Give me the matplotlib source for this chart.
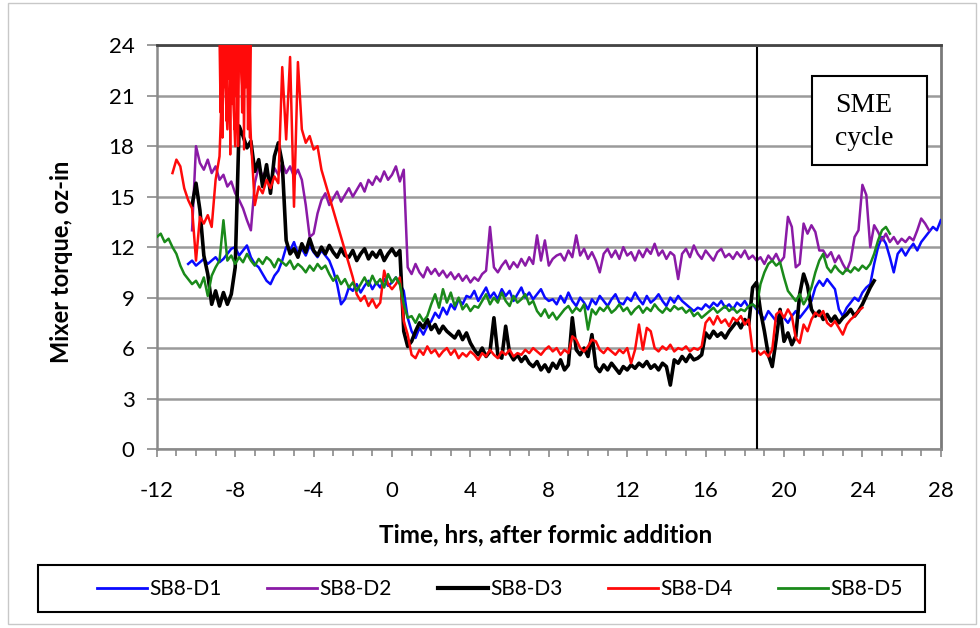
import numpy as np
import matplotlib
matplotlib.use("Agg")
import matplotlib.pyplot as plt
from matplotlib.patches import Rectangle
from matplotlib.lines import Line2D

# ---------------- data ----------------
series_names = ["SB8-D1", "SB8-D2", "SB8-D3", "SB8-D4", "SB8-D5"]
series_colors = ["#0a0aff", "#8a1aa6", "#000000", "#ff0a0a", "#1a8a1a"]
sample_step = 0.2  # hours between logged samples

d1_start = -10.4
d1_values = [
    11.0, 11.2, 10.9, 11.1, 11.3, 11.0, 11.2, 11.4, 11.1, 11.3,
    11.6, 11.9, 12.0, 11.5, 11.8, 12.1, 11.4, 11.0,
    10.8, 10.4, 10.0, 9.8, 10.3, 10.6, 11.2,
    12.0, 11.8, 12.3, 11.6, 11.9, 11.5, 12.1, 11.7, 11.4, 11.8, 11.5, 11.2,
    10.6, 9.8, 8.6, 8.9, 9.6,
    9.4, 9.8, 9.3, 9.7, 10.0, 9.5, 9.9, 9.6, 10.1, 9.7, 9.9, 10.2, 9.8, 9.4,
    7.8, 7.0, 6.6, 7.2, 6.8, 7.3,
    7.6, 8.1, 7.8, 8.4, 8.0, 8.6, 8.3, 8.9, 8.6, 9.1,
    9.0, 9.4, 8.8, 9.2, 9.6, 9.0, 9.3, 8.9, 9.5, 9.1, 9.4, 8.8, 9.2, 9.6, 9.0, 9.3, 8.9, 9.2, 9.5, 9.0, 8.8,
    8.9, 8.6, 9.1, 8.7, 9.3, 8.8, 8.5, 9.0, 8.7, 8.3, 8.9, 8.6, 9.1, 8.8, 8.5, 8.9, 9.2, 8.7,
    8.6, 9.0, 8.8, 9.3, 8.9, 8.6, 9.1, 8.7, 8.9, 9.2, 8.8, 8.5, 9.0, 8.7, 9.1, 8.8, 8.6,
    8.4, 8.2, 8.4, 8.3, 8.6, 8.4, 8.7, 8.5, 8.8, 8.4, 8.6, 8.3, 8.7, 8.5, 8.8, 8.4, 8.6,
    8.3, 8.0, 7.7, 8.2, 7.9, 7.6, 8.1, 7.8, 7.5, 7.9, 8.2, 7.8, 8.1, 8.4, 8.8, 9.6,
    10.0, 9.7, 10.1, 9.8, 9.5,
    8.3, 7.9, 8.4,
    8.7, 9.0, 8.8, 9.3, 9.6, 9.8,
    11.0, 12.0, 12.6, 12.2, 11.4,
    10.5,
    11.6, 11.9, 11.5, 11.9, 12.2, 11.8, 12.3,
    12.6, 12.9, 13.2, 13.0, 13.6,
]

d2_start = -10.2
d2_values = [
    13.0, 18.0, 17.0, 16.6, 17.2, 16.4, 16.8,
    16.0, 16.3, 15.6, 15.9, 15.2, 14.8, 14.3, 13.6, 13.0,
    15.8, 16.8, 16.2, 16.6, 15.9, 16.7, 16.3, 17.0, 16.4, 16.8, 16.2, 16.6, 16.0,
    14.5, 12.6, 12.8, 14.0,
    14.8, 15.2, 14.5, 14.9, 15.3, 14.7, 15.1, 15.5, 15.0,
    15.4, 15.8, 15.3, 16.0, 15.7, 16.2, 15.9, 16.5, 16.0, 16.3, 16.8, 15.9, 16.6,
    10.8,
    10.4, 11.0, 10.5, 10.2, 10.8, 10.4, 10.7, 10.3, 10.6, 10.2, 10.5, 10.1, 10.4, 10.0, 10.3, 9.9, 10.2, 10.0,
    10.4, 10.6, 13.2, 10.8, 10.5,
    10.9, 11.2, 10.7, 11.1, 10.8, 11.3, 10.9, 11.4, 11.0, 12.7, 11.2, 12.4, 10.9, 11.3, 11.5,
    11.6, 11.2, 11.8, 11.4, 12.7, 11.5, 11.9, 11.3, 11.7, 11.2,
    10.5, 11.6, 11.9, 11.4, 11.8, 11.3, 12.0, 11.5, 11.7, 11.2,
    11.8, 11.4, 11.9, 11.6, 12.2, 11.5, 11.8, 11.3, 11.7, 11.5,
    10.1, 11.6, 11.9, 11.4, 12.1, 11.6, 11.3, 11.8, 11.5, 11.2,
    11.7, 11.9, 11.4, 11.6, 11.3, 11.7, 11.4, 11.8, 11.3, 11.5,
    11.2, 11.4, 11.0, 11.5, 11.2, 11.6, 11.1, 11.4,
    13.8, 13.2, 10.8,
    11.0, 13.4, 12.8, 13.3, 12.9, 11.8,
    11.8, 11.4, 11.7, 11.1, 11.5, 11.0, 10.6,
    11.2, 12.6, 13.0, 15.7, 15.1, 12.0,
    13.3, 12.9, 12.4, 12.8, 12.3, 12.6,
    12.2, 12.5, 12.3, 12.6, 12.4,
    13.0, 13.7, 13.4, 13.0,
]

d3_start = -10.2
d3_values = [
    14.5, 15.8, 14.2, 11.5, 10.4,
    8.6, 9.4, 8.5, 9.3, 8.6, 9.2,
    10.8,
    19.2, 18.6, 17.9, 18.3, 16.5, 17.2, 15.6, 16.9, 15.2, 17.4, 18.2, 17.0,
    12.4, 11.6, 11.9, 11.4, 12.2, 11.7, 12.5, 11.8, 11.5, 12.0, 11.6, 12.1, 11.7, 11.4, 11.9, 11.5,
    11.4, 11.8, 11.2, 11.6, 11.9, 11.3, 11.7, 11.4, 11.8, 11.2, 11.6, 11.9, 11.5, 11.8,
    7.0, 6.1, 6.4,
    7.0, 7.5, 7.2, 7.7, 7.1, 7.4, 6.9, 7.3, 7.0, 6.8,
    6.6, 7.0, 6.5, 6.9, 6.3,
    5.9, 5.6, 6.0, 5.5, 5.8, 7.8, 5.6,
    5.4, 7.3, 5.7, 5.3, 5.6, 5.2, 5.5, 5.1,
    4.9, 5.2, 4.7, 5.0, 4.6, 5.1, 4.8, 5.3, 4.7,
    5.0, 7.8, 5.9, 5.6, 6.0, 5.5,
    6.8,
    4.9, 4.6, 5.0, 4.7, 5.1, 4.8, 4.5, 4.9, 4.7, 5.0, 4.8, 5.1, 4.9, 5.2, 4.8, 5.0, 4.7, 5.1, 4.9,
    3.8,
    5.3, 5.1, 5.5, 5.2, 5.6, 5.3, 5.4, 5.6,
    6.9, 6.6, 7.0, 6.7, 6.9, 6.6, 7.0,
    7.3, 7.6, 7.2, 7.7, 7.4,
    9.6, 9.9,
    8.2, 7.0, 5.6, 4.9,
    6.5, 8.3,
    6.4, 6.9, 6.2, 6.7,
    9.2, 10.4, 9.7,
    8.3, 7.9, 8.2, 7.7, 8.0, 7.6, 7.9, 7.5, 7.8,
    8.0, 8.3, 7.9, 8.2,
    8.6, 9.1, 9.6, 10.0,
]

d4_start = -11.2
d4_values = [
    16.4, 17.2, 16.8,
    15.5, 14.8, 14.3,
    11.2,
    13.8, 13.4, 13.9, 13.2,
    16.0, 17.4,
    24.0, 19.0, 24.0, 18.0, 24.0, 21.0, 24.0, 18.5,
    14.5, 15.6, 15.2, 16.0, 15.5, 16.2, 15.8,
    22.7, 18.4, 23.3, 14.4, 23.0,
    19.0, 18.2, 18.6, 17.8, 18.0,
    16.6, 15.8, 15.0, 14.2, 13.4,
    12.6, 11.8, 11.0, 10.2,
    9.2, 8.8, 9.1, 8.5, 8.9, 8.4, 8.7,
    10.6, 9.8,
    9.5, 9.8, 10.2,
    7.6,
    6.8, 5.6, 5.4,
    5.9, 5.6, 6.1, 5.7, 5.9, 5.5, 5.8, 6.0, 5.6, 5.9,
    5.4, 5.7, 5.5, 5.8, 5.6, 5.3, 5.7, 5.5, 5.9, 5.6,
    5.4, 5.8, 5.6, 5.9, 5.5, 5.7, 5.6, 5.9, 5.7, 6.0,
    5.8, 5.6, 5.9, 6.1,
    5.8, 6.0, 5.6, 5.9, 5.7,
    6.7, 6.5,
    6.0, 5.8, 6.1,
    6.5, 6.4,
    5.9, 5.7, 6.0, 5.8, 5.6, 5.9, 5.7, 6.0,
    5.1, 5.9,
    7.4, 5.9, 7.2, 7.0,
    6.0, 5.8, 6.1, 5.9, 6.2, 5.8, 6.0, 5.9, 6.1, 5.8, 6.0, 5.9, 6.1,
    7.5, 7.8, 7.4, 7.9, 7.5, 7.7, 7.3, 7.8, 7.6, 7.9, 7.4, 7.7,
    5.8,
    5.9, 5.6, 5.8, 5.5, 5.9,
    8.0,
    8.2, 7.8, 8.3, 7.9,
    6.6, 6.3,
    7.4, 7.0, 7.7,
    8.1, 7.9, 8.2,
    7.5, 7.3, 7.6, 7.2, 6.8,
    7.4, 7.7, 7.9, 8.2, 8.4,
]
# saturated burst of SB8-D4 (logged faster, pegged at the 24 oz-in limit)
d4_burst_start = -8.8
d4_burst_step = 0.05
d4_burst_values = [
    24.0, 20.0, 24.0, 18.5, 24.0, 21.5, 24.0, 19.5, 24.0, 22.0, 24.0,
    17.5, 24.0, 20.5, 24.0, 19.0, 24.0, 21.0, 24.0, 18.0, 24.0, 22.5,
    24.0, 20.0, 24.0, 17.8, 24.0, 21.5, 24.0, 19.0, 24.0, 18.5, 24.0,
]

d5_start = -12.0
d5_values = [
    12.6, 12.8, 12.3, 12.5, 12.0, 11.6,
    10.9, 10.4, 10.1, 9.8, 10.0, 9.6,
    10.2, 9.1, 10.3,
    10.8, 11.2,
    13.6,
    11.2, 11.5, 11.0, 11.4, 11.1, 11.6, 11.2, 10.9, 11.3, 11.0, 11.4, 11.2, 10.8, 11.3, 11.1,
    10.9, 11.2, 10.7, 11.0, 10.8, 10.5, 10.9, 10.6, 11.0, 10.7, 10.9,
    10.4, 10.0, 10.3, 9.8, 10.1, 9.6, 9.9, 9.4, 9.8,
    10.2, 9.7, 10.3, 9.8, 10.1, 9.6, 10.4, 9.9, 10.2, 9.8,
    8.6, 7.8,
    7.9, 7.5, 8.0, 7.6, 7.9,
    8.6, 9.2, 8.4, 9.5, 8.7, 9.3, 8.5, 9.0,
    8.3, 8.6, 8.2, 8.5, 8.4,
    8.8, 9.2, 8.6, 9.0, 8.7, 9.3, 8.8, 8.5, 9.1, 8.7, 8.9, 9.2, 8.6, 8.8,
    8.2, 7.9, 8.3, 7.8, 8.1, 7.7, 8.0,
    8.3, 8.5, 8.1, 8.4, 8.2, 8.6, 7.1, 8.3, 8.0, 8.4,
    8.2, 8.5, 8.1, 8.3, 8.6, 8.2, 8.4, 8.0, 8.3, 8.5,
    8.1, 8.4, 8.2, 8.6, 8.3, 8.1, 8.4, 8.2, 8.5, 8.3,
    8.4, 8.1, 8.3,
    7.9, 8.1, 7.8, 8.0,
    8.2, 8.4, 8.1, 8.3, 8.5, 8.2, 8.4, 8.1, 8.3, 8.2, 8.5, 8.6,
    8.4,
    9.8, 10.5,
    11.0, 11.2, 10.9, 11.1,
    10.2, 9.4,
    9.1, 8.8, 9.2, 8.6, 9.0,
    9.6, 10.5, 11.2, 11.6,
    10.8, 10.5, 10.9, 10.6,
    10.4, 10.7, 10.5, 10.8, 10.6, 10.9, 10.7, 11.0,
    11.6, 12.4, 13.0, 13.2,
    12.8,
]

sme_time = 18.6
x_ticks = [-12, -8, -4, 0, 4, 8, 12, 16, 20, 24, 28]
y_ticks = [0, 3, 6, 9, 12, 15, 18, 21, 24]

# ---------------- plotting ----------------
plt.rcParams["font.family"] = ["Lato", "DejaVu Sans"]
plt.rcParams["axes.unicode_minus"] = False

fig = plt.figure(figsize=(9.8, 6.28), dpi=100)
ax = fig.add_axes([0.160, 0.285, 0.800, 0.643])

def times(start, vals, step=sample_step):
    return start + step * np.arange(len(vals))

starts = [d1_start, d2_start, d3_start, d4_start, d5_start]
values = [d1_values, d2_values, d3_values, d4_values, d5_values]
lines = []
for name, col, st, v in zip(series_names, series_colors, starts, values):
    lw = 2.6 if name == "SB8-D3" else 1.8
    ln, = ax.plot(times(st, v), v, color=col, lw=lw, label=name, zorder=3)
    lines.append(ln)
    if name == "SB8-D4":
        ax.plot(times(d4_burst_start, d4_burst_values, d4_burst_step), d4_burst_values,
                color=col, lw=1.6, zorder=3)

ax.set_xlim(-12, 28)
ax.set_ylim(0, 24)
ax.set_xticks(x_ticks)
ax.set_xticks(np.arange(-12, 29, 1), minor=True)
ax.set_yticks(y_ticks)
ax.grid(axis="y", color="#9a9a9a", lw=1.8, zorder=1)
ax.tick_params(axis="both", which="both", direction="out", color="#8a8a8a", width=1.2)
ax.tick_params(axis="x", which="major", length=6, labelsize=16, pad=17)
ax.tick_params(axis="x", which="minor", length=5)
ax.tick_params(axis="y", length=7, labelsize=16, pad=9)

for s in ["left", "bottom"]:
    ax.spines[s].set_color("#8a8a8a")
    ax.spines[s].set_linewidth(1.8)
ax.spines["top"].set_color("#444444")
ax.spines["top"].set_linewidth(2.0)
ax.spines["right"].set_color("#7a7a7a")
ax.spines["right"].set_linewidth(2.0)

ax.set_xlabel("Time, hrs, after formic addition", fontsize=17.5, fontweight="bold")
ax.xaxis.label.set_va("center")
ax.xaxis.set_label_coords(0.496, -0.213)
ax.set_ylabel("Mixer torque, oz-in", fontsize=17, fontweight="bold")
ax.yaxis.label.set_va("center")
ax.yaxis.set_label_coords(-0.121, 0.463)

ax.axvline(sme_time, ymin=0, ymax=0.993, color="black", lw=1.5, zorder=4)

# SME cycle annotation box
fig.patches.append(Rectangle((812 / 980, 1 - 165 / 628), 115 / 980, 89 / 628,
                             transform=fig.transFigure, fc="white", ec="black",
                             lw=1.5, zorder=5))
fig.text(835 / 980, 1 - 122 / 628, "SME\ncycle", fontsize=20,
         family=["Liberation Serif", "DejaVu Serif"], ha="left", va="center",
         linespacing=1.45, zorder=6)

# legend (frame drawn separately to match the reference box)
fig.patches.append(Rectangle((38 / 980, 1 - 612 / 628), 887 / 980, 47 / 628,
                             transform=fig.transFigure, fill=False, ec="black", lw=1.5))
handles = [Line2D([], [], color=c, lw=(3.0 if n == "SB8-D3" else 2.0))
           for n, c in zip(series_names, series_colors)]
leg = fig.legend(handles, series_names, loc="center", ncol=5,
                 bbox_to_anchor=(500 / 980, 1 - 589 / 628), frameon=False, fontsize=15,
                 handlelength=2.4, handletextpad=0.1, columnspacing=2.2, borderaxespad=0)

fig.patches.append(Rectangle((0.008, 0.006), 0.988, 0.99, transform=fig.transFigure,
                             fill=False, ec="#c8c8c8", lw=1.0))

fig.savefig("out.png", dpi=100)
